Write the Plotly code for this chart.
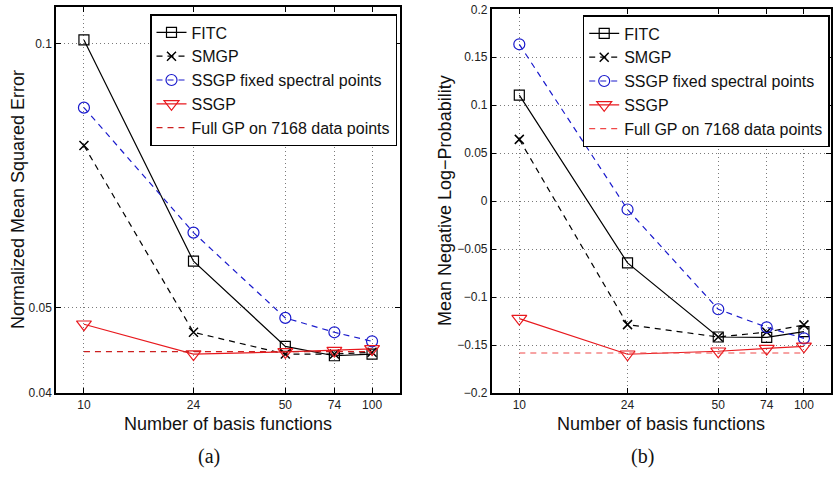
import plotly.graph_objects as go

n_basis = [10, 24, 50, 74, 100]
x_ticks = [10, 24, 50, 74, 100]
x_ticktext = ["10", "24", "50", "74", "100"]

# (a) Normalized Mean Squared Error
nmse_fitc = [0.1009, 0.0565, 0.0452, 0.0441, 0.0443]
nmse_smgp = [0.0765, 0.0469, 0.0443, 0.0443, 0.0445]
nmse_ssgp_fixed = [0.0845, 0.0609, 0.0487, 0.0469, 0.0458]
nmse_ssgp = [0.0479, 0.0443, 0.04455, 0.0447, 0.0449]
nmse_fullgp = 0.04459
nmse_ticks = [0.04, 0.05, 0.1]
nmse_ticktext = ["0.04", "0.05", "0.1"]

# (b) Mean Negative Log-Probability
mnlp_fitc = [0.1106, -0.0644, -0.1416, -0.1420, -0.1360]
mnlp_smgp = [0.0644, -0.1287, -0.1416, -0.1365, -0.1290]
mnlp_ssgp_fixed = [0.1635, -0.0087, -0.1127, -0.1315, -0.1430]
mnlp_ssgp = [-0.1224, -0.1596, -0.1565, -0.1537, -0.1513]
mnlp_fullgp = -0.1583
mnlp_ticks = [-0.2, -0.15, -0.1, -0.05, 0, 0.05, 0.1, 0.15, 0.2]
mnlp_ticktext = ["\u22120.2", "\u22120.15", "\u22120.1", "\u22120.05", "0", "0.05", "0.1", "0.15", "0.2"]

names = ["FITC", "SMGP", "SSGP fixed spectral points", "SSGP", "Full GP on 7168 data points"]

BLACK = "#000000"
BLUE = "#1a1acc"
RED = "#e8191e"
RED_LIGHT = "#f04848"

FONT = "Liberation Sans, Arial, sans-serif"
SERIF = "Liberation Serif, Times New Roman, serif"

fig = go.Figure()

def add_series(xa, ya, legend, data, fullgp, fullcolor):
    fig.add_trace(go.Scatter(x=n_basis, y=data[0], name=names[0], mode="lines+markers",
                             line=dict(color=BLACK, width=1.2),
                             marker=dict(symbol="square-open", size=10, color=BLACK, line=dict(width=1.2)),
                             xaxis=xa, yaxis=ya, legend=legend))
    fig.add_trace(go.Scatter(x=n_basis, y=data[1], name=names[1], mode="lines+markers",
                             line=dict(color=BLACK, width=1.2, dash="6px,5px"),
                             marker=dict(symbol="x-thin-open", size=9, color=BLACK, line=dict(width=1.5, color=BLACK)),
                             xaxis=xa, yaxis=ya, legend=legend))
    fig.add_trace(go.Scatter(x=n_basis, y=data[2], name=names[2], mode="lines+markers",
                             line=dict(color=BLUE, width=1.2, dash="6px,5px"),
                             marker=dict(symbol="circle-open", size=11, color=BLUE, line=dict(width=1.2)),
                             xaxis=xa, yaxis=ya, legend=legend))
    fig.add_trace(go.Scatter(x=n_basis, y=data[3], name=names[3], mode="lines+markers",
                             line=dict(color=RED, width=1.2),
                             marker=dict(symbol="triangle-down-open", size=13, color=RED, line=dict(width=1.2)),
                             xaxis=xa, yaxis=ya, legend=legend))
    fig.add_trace(go.Scatter(x=[n_basis[0], n_basis[-1]], y=[fullgp, fullgp], name=names[4], mode="lines",
                             line=dict(color=fullcolor, width=1.2, dash="6px,5px"),
                             xaxis=xa, yaxis=ya, legend=legend))

add_series("x", "y", "legend", [nmse_fitc, nmse_smgp, nmse_ssgp_fixed, nmse_ssgp], nmse_fullgp, "#cc2020")
add_series("x2", "y2", "legend2", [mnlp_fitc, mnlp_smgp, mnlp_ssgp_fixed, mnlp_ssgp], mnlp_fullgp, RED_LIGHT)

axis_common = dict(showline=True, linecolor="black", linewidth=1.5, mirror="allticks",
                   ticks="inside", ticklen=5, tickwidth=1, tickcolor="black",
                   showgrid=True, gridcolor="#7a7a7a", griddash="1px,3px", gridwidth=1,
                   zeroline=False, automargin=False,
                   tickfont=dict(family=FONT, size=12, color="#222"))

legend_common = dict(xanchor="left", yanchor="top",
                     bgcolor="white", bordercolor="black", borderwidth=1.5,
                     font=dict(family=FONT, size=16, color="#111"), tracegroupgap=0,
                     itemwidth=30, traceorder="normal")

title_font = dict(family=FONT, size=18, color="#111")

def paper_text(text, x, y, font, angle=0):
    return dict(text=text, x=x/838, y=1-y/480, xref="paper", yref="paper",
                xanchor="center", yanchor="middle", showarrow=False,
                textangle=angle, font=font)

fig.update_layout(
    width=838, height=480,
    margin=dict(l=0, r=0, t=0, b=0),
    paper_bgcolor="white", plot_bgcolor="white",
    font=dict(family=FONT),
    xaxis=dict(domain=[56/838, 400/838], type="log", range=[0.903, 2.097],
               tickvals=x_ticks, ticktext=x_ticktext, anchor="y", **axis_common),
    yaxis=dict(domain=[1-393/480, 1-7/480], type="log", range=[-1.39794, -0.9586],
               tickvals=nmse_ticks, ticktext=nmse_ticktext, anchor="x", **axis_common),
    xaxis2=dict(domain=[491.7/838, 830.7/838], type="log", range=[0.903, 2.094],
                tickvals=x_ticks, ticktext=x_ticktext, anchor="y2", **axis_common),
    yaxis2=dict(domain=[1-393/480, 1-9.3/480], range=[-0.2, 0.2],
                tickvals=mnlp_ticks, ticktext=mnlp_ticktext, anchor="x2", **axis_common),
    legend=dict(x=150/838, y=1-14/480, **legend_common),
    legend2=dict(x=582.7/838, y=1-15/480, **legend_common),
    annotations=[
        paper_text("Number of basis functions", 228, 423.5, title_font),
        paper_text("Number of basis functions", 661, 423.5, title_font),
        paper_text("Normalized Mean Squared Error", 18, 200, title_font, -90),
        paper_text("Mean Negative Log\u2212Probability", 445, 201, title_font, -90),
        paper_text("(a)", 209, 456, dict(family=SERIF, size=20, color="#111")),
        paper_text("(b)", 642, 456, dict(family=SERIF, size=20, color="#111")),
    ],
)

fig.write_html("out.html")
